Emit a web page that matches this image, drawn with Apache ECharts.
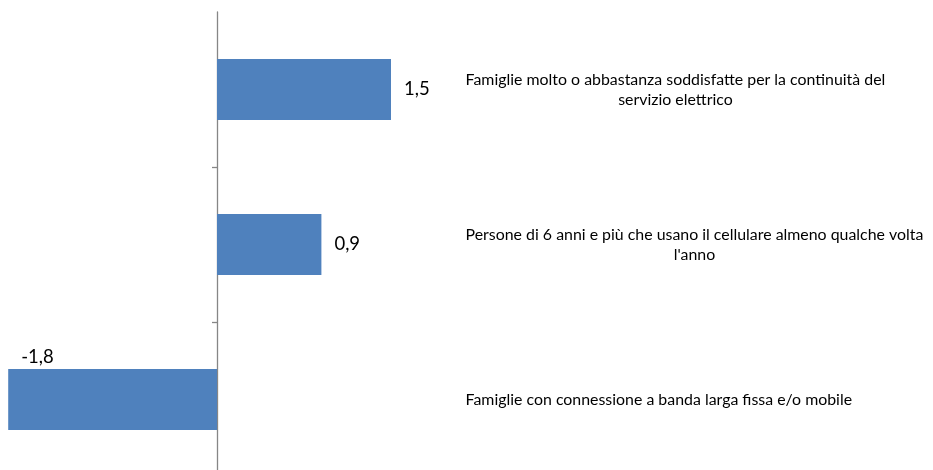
<!DOCTYPE html>
<html>
<head>
<meta charset="utf-8">
<script src="https://cdn.jsdelivr.net/npm/echarts@6/dist/echarts.min.js"></script>
<style>
html,body{margin:0;padding:0;background:#fff;overflow:hidden;}
#chart{width:933px;height:480px;}
</style>
</head>
<body>
<div id="chart"></div>
<script>
const categories = [
  "Famiglie molto o abbastanza soddisfatte per la continuità del\nservizio elettrico",
  "Persone di 6 anni e più che usano il cellulare almeno qualche volta\nl'anno",
  "Famiglie con connessione a banda larga fissa e/o mobile"
];
const values = [1.5, 0.9, -1.8];

const chart = echarts.init(document.getElementById('chart'), null, {renderer: 'canvas'});

const fmt = v => String(v).replace('.', ',');

const seriesData = values.map(v => {
  if (v < 0) {
    return {value: v, label: {position: [13, -21]}};
  }
  return v;
});

const catFont = 'Lato';
const catSize = 15.9;

const option = {
  backgroundColor: '#ffffff',
  animation: false,
  grid: {left: 8.2, width: 452.4, top: 12, height: 465, containLabel: false},
  xAxis: {
    type: 'value', min: -1.8, max: 2.1, show: false,
    splitLine: {show: false}
  },
  yAxis: [
    {
      type: 'category', data: categories, inverse: true,
      axisLine: {show: true, onZero: true, lineStyle: {color: '#868686', width: 1.3}},
      axisTick: {show: true, inside: false, length: 5, interval: function (i) { return i !== 0; },
        lineStyle: {color: '#868686', width: 1.3}},
      axisLabel: {show: false},
      splitLine: {show: false}
    },
    {
      type: 'category', data: categories, inverse: true, position: 'right',
      axisLine: {show: false, onZero: false},
      axisTick: {show: false},
      splitLine: {show: false},
      axisLabel: {
        show: true, margin: 5, align: 'left',
        fontFamily: catFont, fontSize: catSize, color: '#000', lineHeight: 20,
        formatter: function (v) {
          return v.split('\n').map(l => '{c|' + l + '}').join('\n');
        },
        rich: {c: {align: 'center', fontFamily: catFont, fontSize: catSize, color: '#000', lineHeight: 20}}
      }
    }
  ],
  series: [{
    type: 'bar', yAxisIndex: 0, data: seriesData,
    barWidth: 61,
    itemStyle: {color: '#4F81BD'},
    label: {
      show: true, position: 'right', distance: 13,
      fontFamily: 'Lato', fontSize: 18.5, color: '#000',
      formatter: p => fmt(p.value)
    }
  }]
};
chart.setOption(option);
</script>
</body>
</html>
